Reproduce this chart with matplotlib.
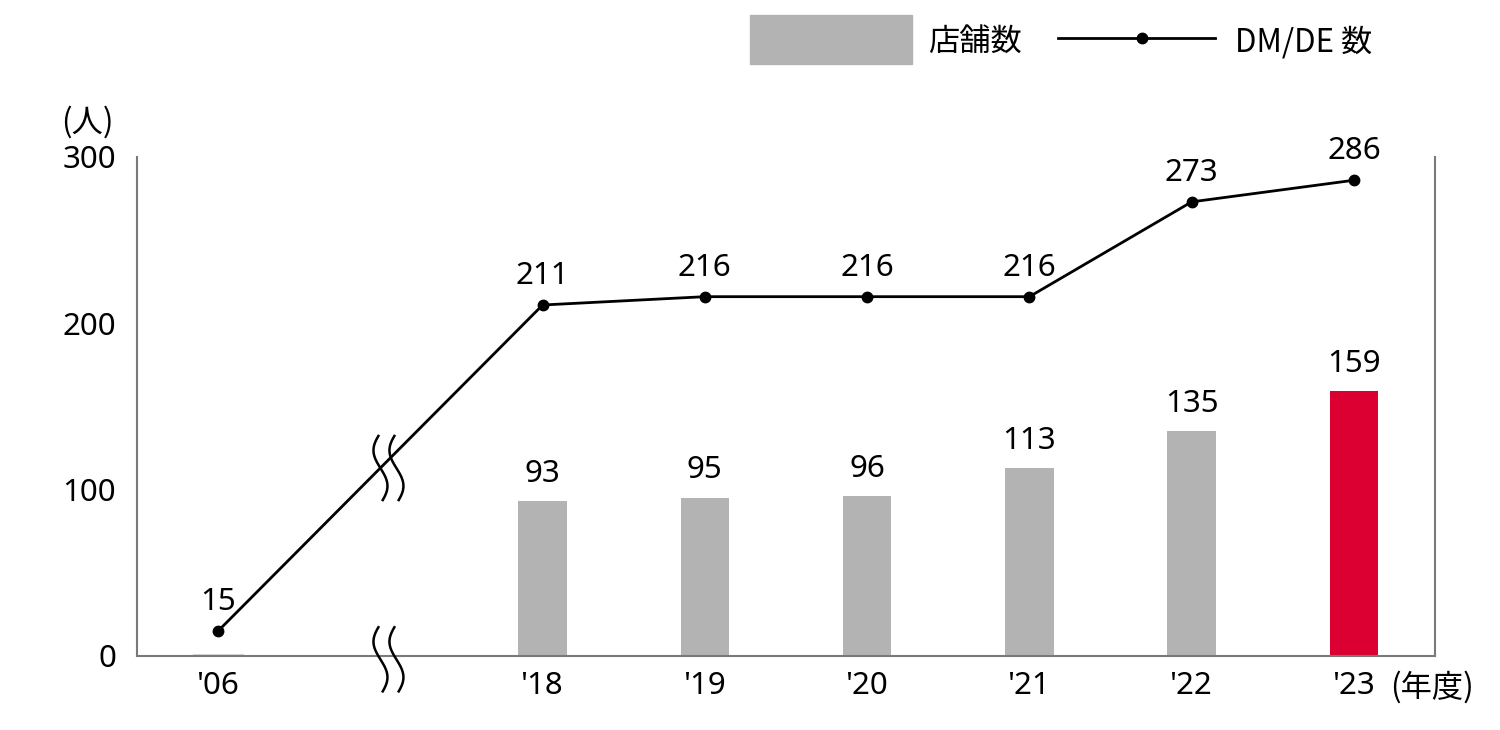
import numpy as np
import matplotlib
matplotlib.use("Agg")
import matplotlib.pyplot as plt
from matplotlib.patches import Rectangle
from matplotlib.lines import Line2D

plt.rcParams['font.family'] = ['Noto Sans', 'Noto Sans CJK JP', 'DejaVu Sans']

# data
years = ["'06", "'18", "'19", "'20", "'21", "'22", "'23"]
xpos = [0, 2, 3, 4, 5, 6, 7]          # slot 1 is the axis break
stores = [0, 93, 95, 96, 113, 135, 159]
dmde = [15, 211, 216, 216, 216, 273, 286]
break_x = 1.05

gray = '#b3b3b3'
red = '#dc0032'
spine_c = '#7a7a7a'
fs = 22.5

fig = plt.figure(figsize=(15, 7.3), dpi=100)
ax = fig.add_axes([0.0913, 0.1014, 0.8654, 0.6836])

bar_cols = [gray] * (len(stores) - 1) + [red]
bars = ax.bar(xpos, stores, width=0.3, color=bar_cols, edgecolor='none', zorder=2)
# '06 has no stores -> faint line on the axis
ax.plot([xpos[0] - 0.15, xpos[0] + 0.15], [0.3, 0.3], color='#d0d0d0', lw=2, zorder=2)
for x, v in zip(xpos[1:], stores[1:]):
    ax.annotate(str(v), (x, v), xytext=(0, 9), textcoords='offset points',
                ha='center', va='bottom', fontsize=fs)

ax.plot(xpos, dmde, color='black', lw=2, marker='o', markersize=7.5, zorder=3)
for x, v in zip(xpos, dmde):
    ax.annotate(str(v), (x, v), xytext=(0, 10), textcoords='offset points',
                ha='center', va='bottom', fontsize=fs)

ax.set_xlim(-0.5, 7.5)
ax.set_ylim(0, 300)
ax.set_yticks([0, 100, 200, 300])
ax.set_xticks(xpos)
ax.set_xticklabels(years)
ax.tick_params(length=0, labelsize=fs, pad=11)
ax.tick_params(axis='y', pad=15)
for s in ['left', 'right', 'bottom']:
    ax.spines[s].set_color(spine_c)
    ax.spines[s].set_linewidth(1.5)
ax.spines['top'].set_visible(False)

# break marks (wavy pairs)
t = np.linspace(0, 1, 60)
dxp = 1 / 162.5
dyp = 1 / 1.66
for yc in [113, -2]:
    for off in [-8, 8]:
        xs = break_x + (off - 7 * np.sin(2 * np.pi * t * 0.9 + 0.3)) * dxp
        ys = yc + (32 - 64 * t) * dyp
        ax.plot(xs, ys, color='black', lw=1.8, clip_on=False, zorder=4)

ax.annotate('(年度)', (xpos[-1], 0), xytext=(26, -11), textcoords='offset points',
            ha='left', va='top', fontsize=fs, family=['Noto Sans CJK JP'])
fig.text(0.058, 0.833, '(人)', ha='center', va='center', fontsize=fs,
         family=['Noto Sans CJK JP'])

# legend
fig.add_artist(Rectangle((750 / 1500, 1 - 64 / 730), 162 / 1500, 49 / 730,
                         transform=fig.transFigure, color=gray))
fig.text(928 / 1500, 1 - 42 / 730, '店舗数', ha='left', va='center', fontsize=fs,
         family=['Noto Sans CJK JP'])
fig.add_artist(Line2D([1058 / 1500, 1215 / 1500], [1 - 38 / 730] * 2,
                      transform=fig.transFigure, color='black', lw=2))
fig.add_artist(Line2D([1142 / 1500], [1 - 38 / 730], transform=fig.transFigure,
                      color='black', marker='o', markersize=7.5))
fig.text(1235 / 1500, 1 - 42 / 730, 'DM/DE 数', ha='left', va='center', fontsize=fs,
         family=['Noto Sans CJK JP'])

fig.savefig('out.png', dpi=100)
